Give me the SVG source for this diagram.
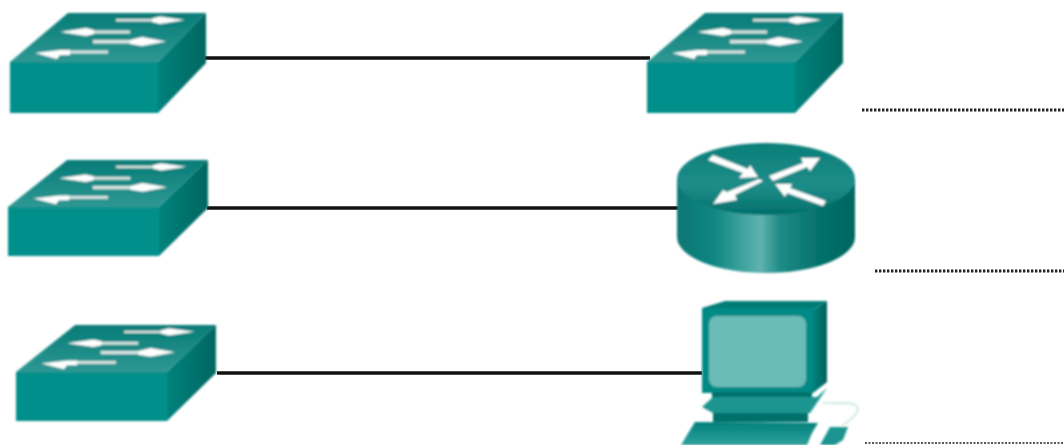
<svg xmlns="http://www.w3.org/2000/svg" width="1064" height="445" viewBox="0 0 1064 445">
<style>
.link{stroke:#111;stroke-width:3.6;fill:none}
.dots{stroke:#222;stroke-width:3;stroke-dasharray:2.4 1.6;fill:none}
.arw{fill:#fff}
.shaft{fill:#d9e6e4}
</style>
<defs>
<filter id="soft" x="-5%" y="-5%" width="110%" height="110%"><feGaussianBlur stdDeviation="1"/></filter>
<linearGradient id="swTop" x1="0" y1="0" x2="0" y2="1"><stop offset="0" stop-color="#067c77"/><stop offset="1" stop-color="#2f9894"/></linearGradient>
<linearGradient id="swRight" x1="0" y1="0" x2="1" y2="0"><stop offset="0" stop-color="#00827d"/><stop offset="1" stop-color="#006660"/></linearGradient>
<linearGradient id="rtTop" x1="0" y1="0" x2="0" y2="1"><stop offset="0" stop-color="#0a7f7a"/><stop offset="0.6" stop-color="#1f8d89"/><stop offset="1" stop-color="#006f6b"/></linearGradient>
<linearGradient id="rtBody" x1="0" y1="0" x2="1" y2="0"><stop offset="0" stop-color="#0f7672"/><stop offset="0.2" stop-color="#0b8682"/><stop offset="0.47" stop-color="#5fb3af"/><stop offset="0.58" stop-color="#1f8a86"/><stop offset="0.8" stop-color="#04716c"/><stop offset="1" stop-color="#006560"/></linearGradient>
<linearGradient id="pcRight" x1="0" y1="0" x2="1" y2="0"><stop offset="0" stop-color="#00827d"/><stop offset="1" stop-color="#005f5a"/></linearGradient>
<linearGradient id="kb" x1="0" y1="0" x2="0" y2="1"><stop offset="0" stop-color="#007f7a"/><stop offset="1" stop-color="#2fa19c"/></linearGradient>
<g id="switchShape">
<polygon points="10,62 68,13 206,13 158,62" fill="url(#swTop)"/>
<rect x="10" y="62" width="148" height="51" fill="#008f8a"/>
<polygon points="158,62 206,13 206,63 158,113" fill="url(#swRight)"/>
<rect class="shaft" x="116" y="19" width="46" height="2.500"/>
<polygon class="arw" points="152,18.500 160,16.500 185,20 160,24 152,22"/>
<rect class="shaft" x="86" y="30.500" width="44" height="3"/>
<polygon class="arw" points="60,32 86,28 94,30 94,34 86,36"/>
<rect class="shaft" x="93" y="40" width="48" height="3.500"/>
<polygon class="arw" points="130,40 142,37 166,41.500 142,46 130,44"/>
<rect class="shaft" x="66" y="50.500" width="42" height="3"/>
<polygon class="arw" points="35,53 60,50 70,50 70,55 60,55 57,59"/>
</g>
</defs>
<g id="connectors">
<line class="link" x1="205" y1="58" x2="650" y2="58"/>
<line class="link" x1="207" y1="208" x2="678" y2="208"/>
<line class="link" x1="217" y1="373" x2="702" y2="373"/>
</g>
<g id="blanks">
<line class="dots" x1="862" y1="110" x2="1064" y2="110"/>
<line class="dots" x1="875" y1="271" x2="1064" y2="271"/>
<line x1="865" y1="443" x2="1064" y2="443" stroke="#222" stroke-width="1.500" stroke-dasharray="2 1.500"/>
</g>
<g id="switch-top-left" filter="url(#soft)"><use href="#switchShape"/></g>
<g id="switch-top-right" filter="url(#soft)"><use href="#switchShape" transform="translate(637 0)"/></g>
<g id="switch-middle" filter="url(#soft)"><use href="#switchShape" transform="translate(-2.200 147.500) scale(1.02 0.96)"/></g>
<g id="switch-bottom" filter="url(#soft)"><use href="#switchShape" transform="translate(5.800 312.500) scale(1.02 0.96)"/></g>
<g id="router" filter="url(#soft)">
<path d="M677,179 V237 A89,36 0 0 0 855,237 V179 Z" fill="url(#rtBody)"/>
<ellipse cx="766" cy="179" rx="89" ry="36" fill="url(#rtTop)"/>
<polygon class="arw" points="708,160 713,155 748,169 750,165 758,177 739,178 743,173"/>
<polygon class="arw" points="769,176 803,163 801,158 820,158 810,171 807,167 773,181"/>
<polygon class="arw" points="763,181 735,195 737,200 713,204 723,190 727,192 759,179"/>
<polygon class="arw" points="775,184 792,184 790,188 826,201 823,206 787,193 785,197"/>
</g>
<g id="pc" filter="url(#soft)">
<polygon points="702,308 725,301 827,301 813,310" fill="#067c77"/>
<rect x="702" y="308" width="111" height="85" fill="#008a85"/>
<polygon points="813,310 827,301 827,382 813,393" fill="url(#pcRight)"/>
<rect x="709" y="316" width="97" height="71" rx="8" fill="#6bbcb7"/>
<rect x="712" y="392" width="100" height="6" fill="#00716c"/>
<polygon points="702,407 713,397 817,397 827,388 810,413 713,413" fill="#1f9590"/>
<rect x="713" y="413" width="95" height="9" fill="#00706b"/>
<polygon points="681,445 695,422 818,423 812,433 807,445" fill="url(#kb)"/>
<polygon points="820,445 830,427 848,427 843,440 835,445" fill="#1f9590"/>
<path d="M823,403 H840 Q858,402 858,410 Q856,416 842,426" fill="none" stroke="#cfe9e6" stroke-width="2"/>
</g>
</svg>
